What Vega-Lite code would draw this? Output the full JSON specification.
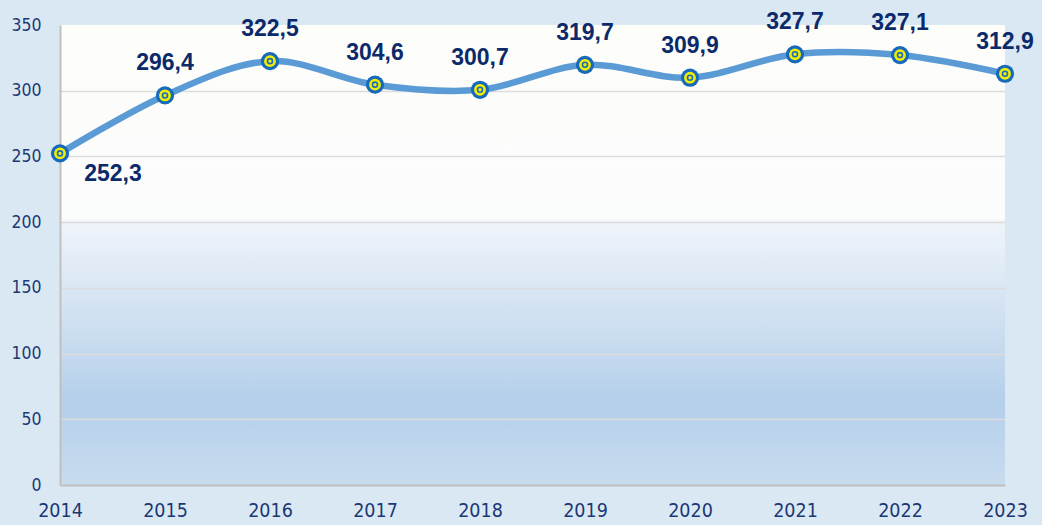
{
  "$schema": "https://vega.github.io/schema/vega-lite/v6.json",
  "width": 945,
  "height": 460,
  "autosize": "none",
  "padding": {"left": 60, "top": 25, "right": 37, "bottom": 40},
  "background": "#dae8f4",
  "config": {
    "view": {
      "stroke": null,
      "fill": {
        "gradient": "linear", "x1": 0, "y1": 0, "x2": 0, "y2": 1,
        "stops": [
          {"offset": 0, "color": "#fdfdfa"},
          {"offset": 0.42, "color": "#fbfcfc"},
          {"offset": 0.43, "color": "#eff4fa"},
          {"offset": 0.82, "color": "#b4cfea"},
          {"offset": 1, "color": "#c8dcef"}
        ]
      }
    }
  },
  "data": {
    "values": [
      {"year": 2014, "value": 252.3, "label": "252,3"},
      {"year": 2015, "value": 296.4, "label": "296,4"},
      {"year": 2016, "value": 322.5, "label": "322,5"},
      {"year": 2017, "value": 304.6, "label": "304,6"},
      {"year": 2018, "value": 300.7, "label": "300,7"},
      {"year": 2019, "value": 319.7, "label": "319,7"},
      {"year": 2020, "value": 309.9, "label": "309,9"},
      {"year": 2021, "value": 327.7, "label": "327,7"},
      {"year": 2022, "value": 327.1, "label": "327,1"},
      {"year": 2023, "value": 312.9, "label": "312,9"}
    ]
  },
  "encoding": {
    "x": {
      "field": "year", "type": "quantitative",
      "scale": {"domain": [2014, 2023]},
      "axis": {
        "title": null, "format": "d", "values": [2014,2015,2016,2017,2018,2019,2020,2021,2022,2023],
        "grid": false, "ticks": false, "domainColor": "#bfbfbf", "domainWidth": 2,
        "labelFont": "Liberation Sans Narrow, DejaVu Sans Condensed, sans-serif",
        "labelFontSize": 19.5, "labelColor": "#1b3874", "labelPadding": 16,
        "labelFlush": false, "labelOverlap": false
      }
    },
    "y": {
      "field": "value", "type": "quantitative",
      "scale": {"domain": [0, 350], "nice": false},
      "axis": {
        "title": null, "values": [0,50,100,150,200,250,300,350],
        "ticks": false, "domainColor": "#bfbfbf", "domainWidth": 2,
        "gridColor": "#dcdcdc", "gridWidth": 1.5,
        "gridOpacity": {"condition": {"test": "datum.value === 350 || datum.value === 0", "value": 0}, "value": 1},
        "labelFont": "Liberation Sans Narrow, DejaVu Sans Condensed, sans-serif",
        "labelFontSize": 17.5, "labelColor": "#1b3874", "labelPadding": 19,
        "labelFlush": false, "labelOverlap": false
      }
    }
  },
  "layer": [
    {"mark": {"type": "line", "interpolate": "cardinal", "color": "#5b9bd5", "strokeWidth": 6.5}},
    {"mark": {"type": "point", "filled": true, "shape": "circle", "size": 330, "color": "#1769bb", "opacity": 1}},
    {"mark": {"type": "point", "filled": true, "shape": "circle", "size": 140, "color": "#f2ee00", "opacity": 1}},
    {"mark": {"type": "point", "filled": true, "shape": "circle", "size": 25, "fill": "#f2ee00", "stroke": "#1a6cc0", "strokeWidth": 1.6, "opacity": 1}},
    {
      "transform": [{"filter": "datum.year !== 2014"}],
      "mark": {"type": "text", "font": "Liberation Sans, Arial, sans-serif", "fontWeight": "bold", "fontSize": 23, "color": "#0c2a6a", "dy": -32},
      "encoding": {"text": {"field": "label"}}
    },
    {
      "transform": [{"filter": "datum.year === 2014"}],
      "mark": {"type": "text", "font": "Liberation Sans, Arial, sans-serif", "fontWeight": "bold", "fontSize": 23, "color": "#0c2a6a", "dx": 53, "dy": 21},
      "encoding": {"text": {"field": "label"}}
    }
  ]
}
